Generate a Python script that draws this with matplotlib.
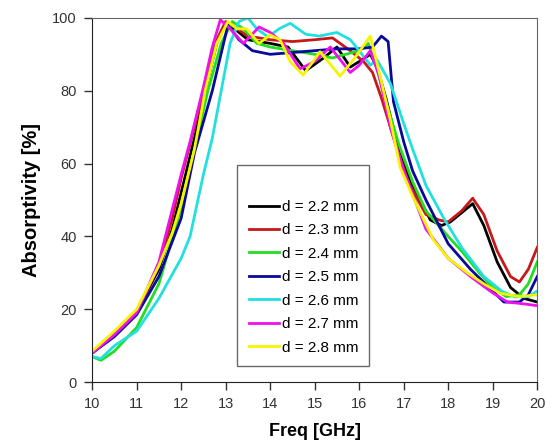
import matplotlib.pyplot as plt

plt.rcParams['font.family'] = ['Liberation Sans', 'DejaVu Sans']

# 各曲線のデータ (Freq [GHz], Absorptivity [%])
f_22 = [10, 10.5, 11, 11.5, 11.8, 12.0, 12.3, 12.6, 12.8, 13.0, 13.2, 13.5, 14.0, 14.4, 14.8, 15.2, 15.5, 15.8, 16.0, 16.25,
        16.4, 16.6, 16.9, 17.2, 17.6, 17.85, 18.05, 18.3, 18.55, 18.8, 19.1, 19.4, 19.7, 20]
a_22 = [8, 13.5, 19.5, 31, 42, 52, 67, 83, 93, 98.5, 97, 94, 93, 92, 85.5, 89, 92, 86.5, 88, 90,
        86.5, 78, 63, 54, 44.5, 43, 44, 46.5, 49, 43, 33, 26, 23, 22]

f_23 = [10, 10.5, 11, 11.5, 11.8, 12.0, 12.3, 12.6, 12.8, 13.0, 13.2, 13.5, 14.0, 14.5, 15.0, 15.4, 15.8, 16.1, 16.3, 16.5,
        16.8, 17.1, 17.5, 17.8, 18.0, 18.3, 18.55, 18.8, 19.1, 19.4, 19.6, 19.8, 20]
a_23 = [8, 13, 19, 32, 45, 56, 70, 85, 94, 99, 97.5, 95, 94, 93.5, 94, 94.5, 91, 88, 85, 78,
        66, 55, 46, 44.5, 44, 47, 50.5, 46, 36, 29, 27.5, 31, 37]

f_24 = [10, 10.2, 10.5, 11, 11.5, 12.0, 12.3, 12.6, 12.9, 13.15, 13.4, 13.7, 14.0, 14.5, 15.0, 15.4, 15.7, 16.0, 16.2, 16.4,
        16.6, 16.9, 17.2, 17.5, 18.0, 18.3, 18.7, 19.0, 19.3, 19.6, 19.8, 20]
a_24 = [7, 6, 8.5, 15, 27, 48, 64, 80, 93, 99, 97, 93, 92, 91, 90, 89, 90, 91, 93, 86,
        77, 65, 55, 47, 40, 36, 30, 26, 23.5, 24, 27, 33]

f_25 = [10, 10.5, 11, 11.5, 12.0, 12.3, 12.7, 13.05, 13.3, 13.6, 14.0, 14.5, 15.0, 15.5, 16.0, 16.3, 16.5, 16.65, 16.77,
        17.0, 17.2, 17.5, 18.0, 18.5, 19.0, 19.25, 19.6, 19.8, 20]
a_25 = [8, 12.5, 18.5, 29, 45, 63, 80, 98, 94, 91, 90, 90.5, 91, 91.5, 91.5, 92, 95, 93.5, 77,
        66, 58, 50, 38, 31, 25, 22, 22, 24, 29]

f_26 = [10, 10.2, 10.5, 11, 11.5, 12.0, 12.2, 12.5, 12.7, 12.9, 13.1, 13.3, 13.5, 13.7, 13.95, 14.2, 14.45, 14.8, 15.1,
        15.5, 15.8, 16.0, 16.25, 16.4, 16.7, 17.0, 17.2, 17.5, 17.9, 18.3, 18.8, 19.2, 19.5, 19.8, 20]
a_26 = [7, 6.5, 10, 14, 23, 34, 40, 57, 67, 80, 93, 99, 100, 97, 94.8, 97, 98.5, 95.5, 95,
        96, 94, 91, 87, 88.5, 82, 71, 64, 54, 45, 37, 29, 25, 23.4, 23.5, 25]

f_27 = [10, 10.5, 11, 11.5, 12.0, 12.2, 12.5, 12.7, 12.88, 13.1, 13.4, 13.75, 14.0, 14.3, 14.67, 15.0, 15.35, 15.8, 16.0,
        16.25, 16.45, 16.7, 17.0, 17.5, 18.0, 18.5, 19.0, 19.33, 19.7, 20]
a_27 = [8, 13, 19, 33, 57, 66, 81, 92, 99.5, 97, 93, 97.5, 96, 93, 86, 88, 92, 85, 87,
        91, 84, 70, 58, 42, 34, 29, 24.5, 22, 21.5, 21]

f_28 = [10, 10.5, 11, 11.5, 11.8, 12.0, 12.3, 12.54, 12.8, 13.05, 13.25, 13.47, 13.75, 14.0, 14.22, 14.45, 14.74, 15.12,
        15.57, 15.9, 16.25, 16.47, 16.7, 16.92, 17.2, 17.67, 18.0, 18.43, 18.8, 19.17, 19.6, 20]
a_28 = [8.5, 14, 20, 32, 41, 49, 64, 80, 93, 99, 97, 97, 93, 95.3, 94, 88, 84.3, 90.7,
        84, 89, 95, 84, 72, 59, 51, 39, 34, 30, 27, 24.4, 23.5, 24]

labels = ["d = 2.2 mm", "d = 2.3 mm", "d = 2.4 mm", "d = 2.5 mm", "d = 2.6 mm", "d = 2.7 mm", "d = 2.8 mm"]
colors = ["#000000", "#c41a1a", "#22dd22", "#0a0a9a", "#22e0e0", "#ee11ee", "#f5f500"]
freqs = [f_22, f_23, f_24, f_25, f_26, f_27, f_28]
absorp = [a_22, a_23, a_24, a_25, a_26, a_27, a_28]

fig = plt.figure(figsize=(5.55, 4.47), dpi=100)
ax = fig.add_axes([0.166, 0.145, 0.802, 0.815])

for f, a, c, lab in zip(freqs, absorp, colors, labels):
    ax.plot(f, a, color=c, lw=2.0, label=lab)

ax.set_xlim(10, 20)
ax.set_ylim(0, 100)
ax.set_xticks(range(10, 21))
ax.set_yticks(range(0, 101, 20))
ax.tick_params(direction='out', length=6, width=1, labelsize=10.5, colors='#333333',
               pad=5, top=False, right=False)
for s in ['left', 'bottom']:
    ax.spines[s].set_color('#222222')
for s in ['top', 'right']:
    ax.spines[s].set_color('#666666')

ax.set_xlabel("Freq [GHz]", fontsize=13, fontweight='bold', labelpad=8)
ax.set_ylabel("Absorptivity [%]", fontsize=14.5, fontweight='bold', labelpad=8)

leg = ax.legend(loc='lower left', bbox_to_anchor=(0.326, 0.044), borderaxespad=0, title=" ",
                fontsize=11, handlelength=2.0, labelspacing=0.62, handletextpad=0.15, borderpad=0.75,
                frameon=True, fancybox=False, edgecolor='#444444')
leg.get_frame().set_linewidth(1.0)

plt.savefig("out.png", dpi=100)
